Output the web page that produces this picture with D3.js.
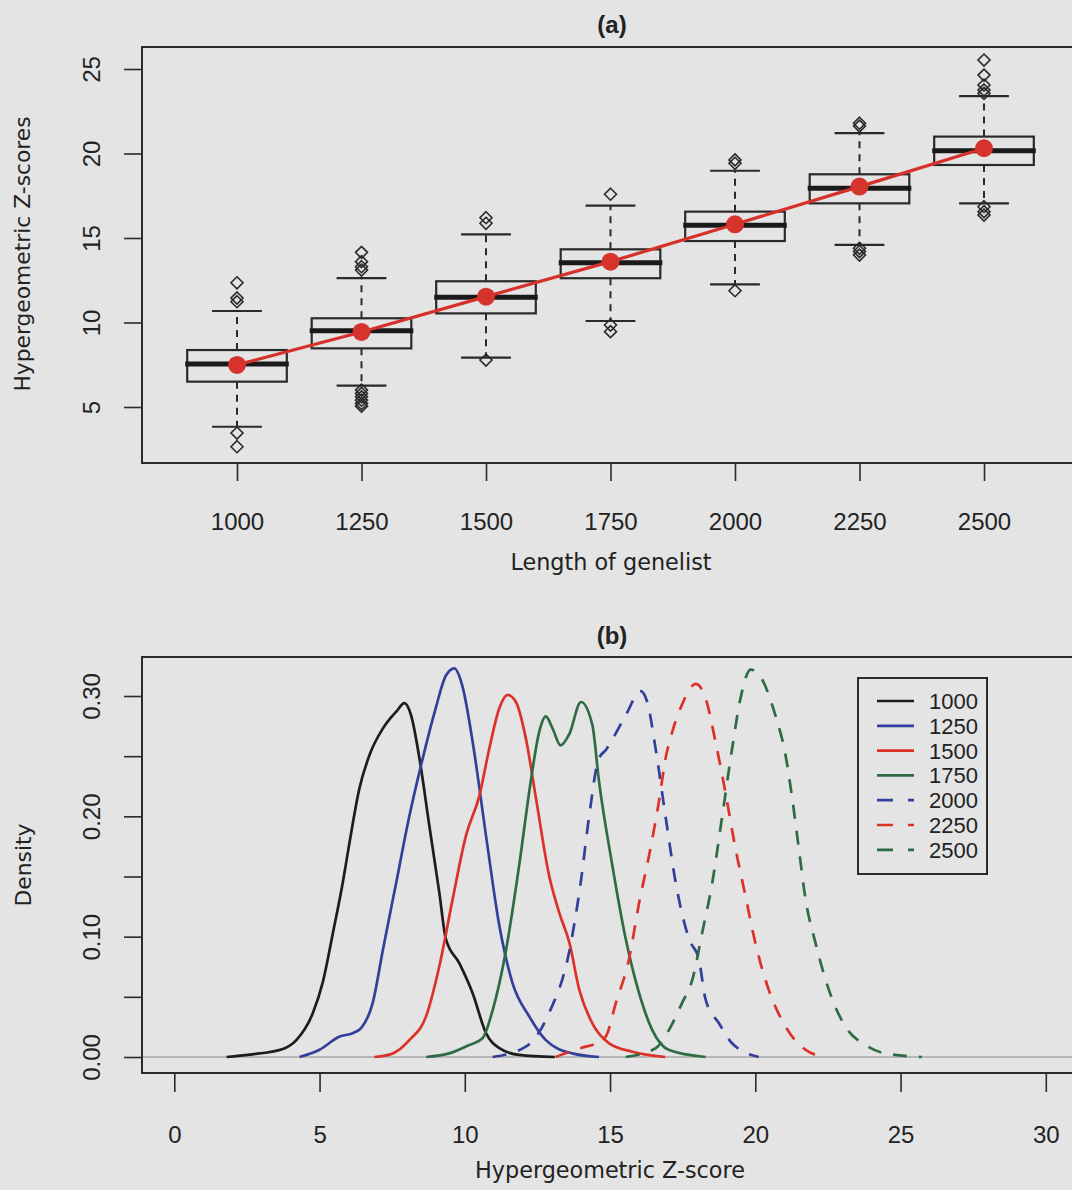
<!DOCTYPE html>
<html><head><meta charset="utf-8">
<script src="https://cdn.jsdelivr.net/npm/d3@7"></script>
<style>body{margin:0;background:#e4e4e4}</style>
</head><body><svg id="c" width="1072" height="1190"></svg>
<script>
// ---------- Panel (a): boxplots ----------
const lengths   = [1000, 1250, 1500, 1750, 2000, 2250, 2500];
const boxLow    = [3.83, 6.26, 7.92, 10.09, 12.26, 14.59, 17.05];
const boxQ1     = [6.50, 8.47, 10.54, 12.62, 14.82, 17.05, 19.32];
const boxMedian = [7.54, 9.51, 11.49, 13.54, 15.75, 17.94, 20.17];
const boxQ3     = [8.37, 10.25, 12.44, 14.33, 16.56, 18.77, 21.00];
const boxHigh   = [10.68, 12.63, 15.22, 16.91, 18.98, 21.20, 23.40];
const boxMean   = [7.49, 9.44, 11.53, 13.60, 15.81, 18.04, 20.31];
const outliers  = [
  [12.35, 11.45, 11.23, 3.46, 2.65],
  [14.15, 13.6, 13.3, 13.1, 6.0, 5.8, 5.6, 5.4, 5.2, 5.05],
  [16.2, 15.87, 7.78],
  [17.59, 9.85, 9.46],
  [19.62, 19.42, 11.88],
  [21.79, 21.62, 14.39, 14.2, 13.99],
  [25.53, 24.64, 24.05, 23.76, 23.56, 16.85, 16.56, 16.36]
];
const topYTicks = [5, 10, 15, 20, 25];

// ---------- Panel (b): densities ----------
const seriesNames = ["1000", "1250", "1500", "1750", "2000", "2250", "2500"];
const seriesColors = ["#1d1d1d", "#33409b", "#dc3128", "#2f6b43", "#33409b", "#dc3128", "#2f6b43"];
const seriesDashed = [false, false, false, false, true, true, true];
const density1000 = [[1.8,0],[2.6,0.002],[3.74,0.0067],[4.2,0.014],[4.77,0.0365],[5.11,0.062],[5.46,0.103],[5.8,0.145],[6.03,0.178],[6.37,0.223],[6.72,0.251],[7.18,0.273],[7.64,0.287],[7.92,0.294],[8.15,0.284],[8.44,0.248],[8.78,0.192],[9.12,0.137],[9.35,0.098],[9.81,0.078],[10.27,0.053],[10.73,0.0198],[11.19,0.0073],[11.87,0.0017],[13.1,0]];
const density1250 = [[4.31,0],[5.0,0.006],[5.69,0.017],[6.14,0.0198],[6.43,0.024],[6.83,0.045],[7.18,0.089],[7.64,0.145],[8.09,0.2],[8.55,0.248],[9.0,0.29],[9.35,0.317],[9.64,0.323],[9.92,0.308],[10.27,0.262],[10.73,0.184],[11.19,0.109],[11.64,0.0616],[12.22,0.0337],[12.79,0.014],[13.7,0.003],[14.62,0]];
const density1500 = [[6.89,0],[7.52,0.003],[8.09,0.014],[8.67,0.034],[9.12,0.075],[9.58,0.131],[10.04,0.184],[10.5,0.217],[10.84,0.256],[11.19,0.29],[11.47,0.301],[11.76,0.295],[12.1,0.265],[12.45,0.215],[12.9,0.151],[13.25,0.12],[13.6,0.095],[13.94,0.056],[14.39,0.028],[14.97,0.0114],[15.77,0.0044],[16.9,0]];
const density1750 = [[8.67,0],[9.47,0.003],[10.16,0.01],[10.61,0.0156],[10.96,0.039],[11.42,0.089],[11.87,0.159],[12.27,0.229],[12.56,0.27],[12.79,0.283],[13.02,0.273],[13.3,0.259],[13.59,0.268],[14.0,0.295],[14.39,0.276],[14.62,0.229],[15.08,0.159],[15.54,0.098],[16.0,0.053],[16.45,0.0226],[17.03,0.0058],[18.29,0]];
const density2000 = [[10.96,0],[12.1,0.0086],[12.9,0.0365],[13.59,0.087],[13.99,0.145],[14.28,0.2],[14.6,0.247],[14.88,0.256],[15.54,0.284],[16.05,0.304],[16.28,0.295],[16.57,0.256],[16.91,0.2],[17.26,0.145],[17.72,0.098],[18.06,0.081],[18.29,0.0476],[18.75,0.028],[19.2,0.0114],[20.12,0]];
const density2250 = [[13.13,0],[14.16,0.0086],[14.39,0.01],[14.85,0.017],[15.2,0.045],[15.65,0.081],[16.0,0.128],[16.34,0.167],[16.68,0.212],[16.91,0.248],[17.14,0.27],[17.48,0.293],[17.95,0.31],[18.29,0.298],[18.63,0.262],[18.97,0.22],[19.32,0.173],[19.66,0.134],[20.0,0.095],[20.46,0.056],[21.04,0.0253],[21.73,0.006],[22.4,0]];
const density2500 = [[15.54,0],[16.57,0.0073],[17.03,0.0226],[17.48,0.045],[17.83,0.064],[18.17,0.103],[18.52,0.145],[18.86,0.2],[19.2,0.256],[19.49,0.298],[19.84,0.322],[20.12,0.318],[20.69,0.284],[21.04,0.251],[21.27,0.215],[21.5,0.173],[21.73,0.131],[22.07,0.095],[22.53,0.056],[23.1,0.0253],[23.79,0.01],[24.47,0.003],[25.73,0]];
const densities = [density1000, density1250, density1500, density1750, density2000, density2250, density2500];
const botXTicks = [0, 5, 10, 15, 20, 25, 30];
const botYTicks = [0, 0.05, 0.10, 0.15, 0.20, 0.25, 0.30];

// ---------- drawing ----------
const svg = d3.select("#c");
const BG = "#e4e4e4", INK = "#2a2a2a";
svg.append("rect").attr("width",1072).attr("height",1190).attr("fill",BG);
const tickFont = "'Liberation Sans', Arial, sans-serif";
const titleFont = "'DejaVu Sans', sans-serif";

function styleAxis(g){
  g.select(".domain").remove();
  g.selectAll(".tick line").attr("stroke",INK).attr("stroke-width",1.6);
  g.selectAll(".tick text").attr("fill","#222").attr("font-family",tickFont).attr("font-size",24);
}

// ===== Panel (a)
const aL=142, aR=1082, aT=47, aB=463;
const xA = d3.scaleLinear().domain([1,7]).range([237,984]);
const yA = d3.scaleLinear().domain([5,25]).range([407,69]);

svg.append("text").attr("x",612).attr("y",33).attr("text-anchor","middle")
  .attr("font-family",tickFont).attr("font-weight","bold").attr("font-size",24).attr("fill","#222").text("(a)");

const gA = svg.append("g");
lengths.forEach((len,i)=>{
  const cx = xA(i+1), hw = xA(1.4)-xA(1), cw = xA(1.2)-xA(1);
  const g = gA.append("g");
  g.append("line").attr("x1",cx).attr("x2",cx).attr("y1",yA(boxQ3[i])).attr("y2",yA(boxHigh[i]))
    .attr("stroke",INK).attr("stroke-width",2).attr("stroke-dasharray","7,6");
  g.append("line").attr("x1",cx).attr("x2",cx).attr("y1",yA(boxQ1[i])).attr("y2",yA(boxLow[i]))
    .attr("stroke",INK).attr("stroke-width",2).attr("stroke-dasharray","7,6");
  [boxHigh[i], boxLow[i]].forEach(v=>g.append("line").attr("x1",cx-cw).attr("x2",cx+cw)
    .attr("y1",yA(v)).attr("y2",yA(v)).attr("stroke",INK).attr("stroke-width",2.2));
  g.append("rect").attr("x",cx-hw).attr("width",2*hw).attr("y",yA(boxQ3[i]))
    .attr("height",yA(boxQ1[i])-yA(boxQ3[i])).attr("fill","none").attr("stroke",INK).attr("stroke-width",2.2);
  g.append("line").attr("x1",cx-hw-2).attr("x2",cx+hw+2).attr("y1",yA(boxMedian[i])).attr("y2",yA(boxMedian[i]))
    .attr("stroke","#1a1a1a").attr("stroke-width",5);
  g.selectAll("path.o").data(outliers[i]).join("path").attr("class","o")
    .attr("d","M0,-6L6,0L0,6L-6,0Z").attr("transform",v=>`translate(${cx},${yA(v)})`)
    .attr("fill","none").attr("stroke",INK).attr("stroke-width",1.6);
});
svg.append("path").datum(boxMean).attr("d", d3.line().x((d,i)=>xA(i+1)).y(d=>yA(d)))
  .attr("fill","none").attr("stroke","#d6302a").attr("stroke-width",3.2);
svg.selectAll("circle.mean").data(boxMean).join("circle").attr("class","mean")
  .attr("cx",(d,i)=>xA(i+1)).attr("cy",d=>yA(d)).attr("r",9).attr("fill","#d6332c");

svg.append("rect").attr("x",aL).attr("y",aT).attr("width",aR-aL).attr("height",aB-aT)
  .attr("fill","none").attr("stroke",INK).attr("stroke-width",2);

const axA = svg.append("g").attr("transform",`translate(0,${aB})`)
  .call(d3.axisBottom(xA).tickValues(d3.range(1,8)).tickFormat((d)=>lengths[d-1]).tickSize(18));
styleAxis(axA);
axA.selectAll(".tick text").attr("y",67).attr("dy",0);

const ayA = svg.append("g").attr("transform",`translate(${aL},0)`)
  .call(d3.axisLeft(yA).tickValues(topYTicks).tickSize(18));
styleAxis(ayA);
ayA.selectAll(".tick text").attr("x",0).attr("dy",0).attr("text-anchor","middle")
  .attr("transform","translate(-42,0) rotate(-90)");

svg.append("text").attr("x",611).attr("y",570).attr("text-anchor","middle")
  .attr("font-family",titleFont).attr("font-size",22.3).attr("fill","#222").text("Length of genelist");
svg.append("text").attr("transform","translate(30,254) rotate(-90)").attr("text-anchor","middle")
  .attr("font-family",titleFont).attr("font-size",21.8).attr("fill","#222").text("Hypergeometric Z-scores");

// ===== Panel (b)
const bL=142, bR=1082, bT=657, bB=1073;
const xB = d3.scaleLinear().domain([0,30]).range([174.3,1045.8]);
const yB = d3.scaleLinear().domain([0,0.3]).range([1057,696]);

svg.append("text").attr("x",612).attr("y",644).attr("text-anchor","middle")
  .attr("font-family",tickFont).attr("font-weight","bold").attr("font-size",24).attr("fill","#222").text("(b)");

svg.append("line").attr("x1",bL).attr("x2",bR).attr("y1",yB(0)).attr("y2",yB(0))
  .attr("stroke","#a8a8a8").attr("stroke-width",1.5);

const lineB = d3.line().x(d=>xB(d[0])).y(d=>yB(d[1])).curve(d3.curveMonotoneX);
densities.forEach((ds,i)=>{
  svg.append("path").datum(ds).attr("d",lineB).attr("fill","none")
    .attr("stroke",seriesColors[i]).attr("stroke-width",2.7)
    .attr("stroke-dasharray",seriesDashed[i]?"14,12":null);
});

svg.append("rect").attr("x",bL).attr("y",bT).attr("width",bR-bL).attr("height",bB-bT)
  .attr("fill","none").attr("stroke",INK).attr("stroke-width",2);

const axB = svg.append("g").attr("transform",`translate(0,${bB})`)
  .call(d3.axisBottom(xB).tickValues(botXTicks).tickSize(19));
styleAxis(axB);
axB.selectAll(".tick text").attr("y",70).attr("dy",0);

const ayB = svg.append("g").attr("transform",`translate(${bL},0)`)
  .call(d3.axisLeft(yB).tickValues(botYTicks).tickSize(18)
    .tickFormat(d=> (Math.round(d*100)%10===0) ? d3.format(".2f")(d) : ""));
styleAxis(ayB);
ayB.selectAll(".tick text").attr("x",0).attr("dy",0).attr("text-anchor","middle")
  .attr("transform","translate(-42,0) rotate(-90)");

svg.append("text").attr("x",610).attr("y",1178).attr("text-anchor","middle")
  .attr("font-family",titleFont).attr("font-size",22.3).attr("fill","#222").text("Hypergeometric Z-score");
svg.append("text").attr("transform","translate(31,865) rotate(-90)").attr("text-anchor","middle")
  .attr("font-family",titleFont).attr("font-size",21.8).attr("fill","#222").text("Density");

// legend
const leg = svg.append("g");
leg.append("rect").attr("x",858).attr("y",678).attr("width",129).attr("height",196)
  .attr("fill",BG).attr("stroke",INK).attr("stroke-width",2);
seriesNames.forEach((nm,i)=>{
  const y = 701 + i*24.8;
  leg.append("line").attr("x1",877).attr("x2",914).attr("y1",y).attr("y2",y)
    .attr("stroke",seriesColors[i]).attr("stroke-width",2.7)
    .attr("stroke-dasharray",seriesDashed[i]?"16,15":null);
  leg.append("text").attr("x",929).attr("y",y+8).attr("font-family",tickFont).attr("font-size",22)
    .attr("fill","#222").text(nm);
});
</script></body></html>
